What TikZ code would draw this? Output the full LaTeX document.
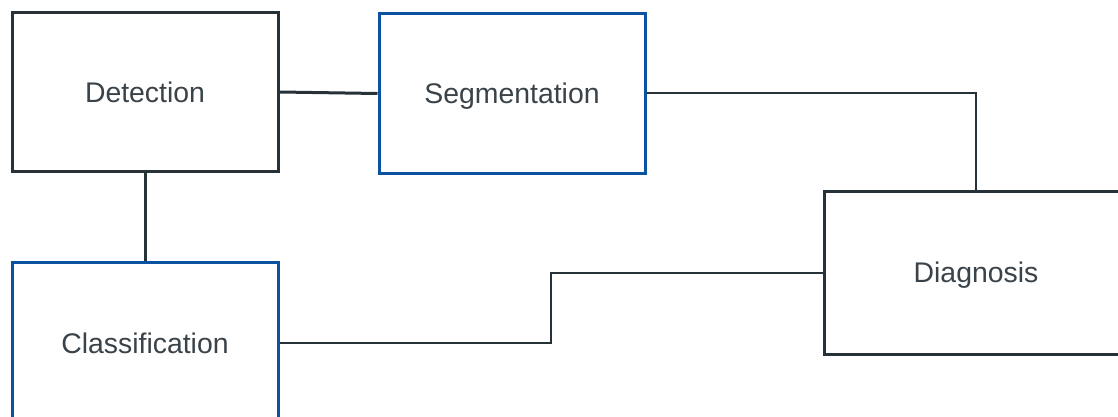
\documentclass[tikz,border=0pt]{standalone}
\usepackage{fontspec}
\setmainfont{Liberation Sans}
\definecolor{darkline}{HTML}{263238}
\definecolor{bluebox}{HTML}{0B52A3}
\definecolor{txt}{HTML}{3A4349}
\begin{document}
\begin{tikzpicture}[x=1pt,y=-1pt,
  box/.style={draw=darkline, line width=3pt, fill=white, rectangle, inner sep=0pt,
    minimum width=266pt, minimum height=158pt, text=txt, text height=20.4pt, text depth=0pt,
    font=\fontsize{28.4}{34}\selectfont},
  bluebx/.style={box, draw=bluebox},
  thick link/.style={draw=darkline, line width=3pt},
  thin link/.style={draw=darkline, line width=2pt}]
\clip (0,0) rectangle (1118,417);
\fill[white] (0,0) rectangle (1118,417);
\node[box] (det) at (145,92) {Detection};
\node[bluebx, minimum height=159pt] (seg) at (512,93.5) {Segmentation};
\node[bluebx, minimum height=161pt] (cls) at (145,343) {Classification};
\node[box, minimum width=304pt, minimum height=163pt] (dia) at (976,272.5) {Diagnosis};
\coordinate (mid) at (551,343);
\draw[thick link] (det.east) -- (seg.west);
\draw[thick link] (det.south) -- (cls.north);
\draw[thin link] (seg.east) -| (dia.north);
\draw[thin link] (cls.east) -- (mid) |- (dia.west);
\end{tikzpicture}
\end{document}
